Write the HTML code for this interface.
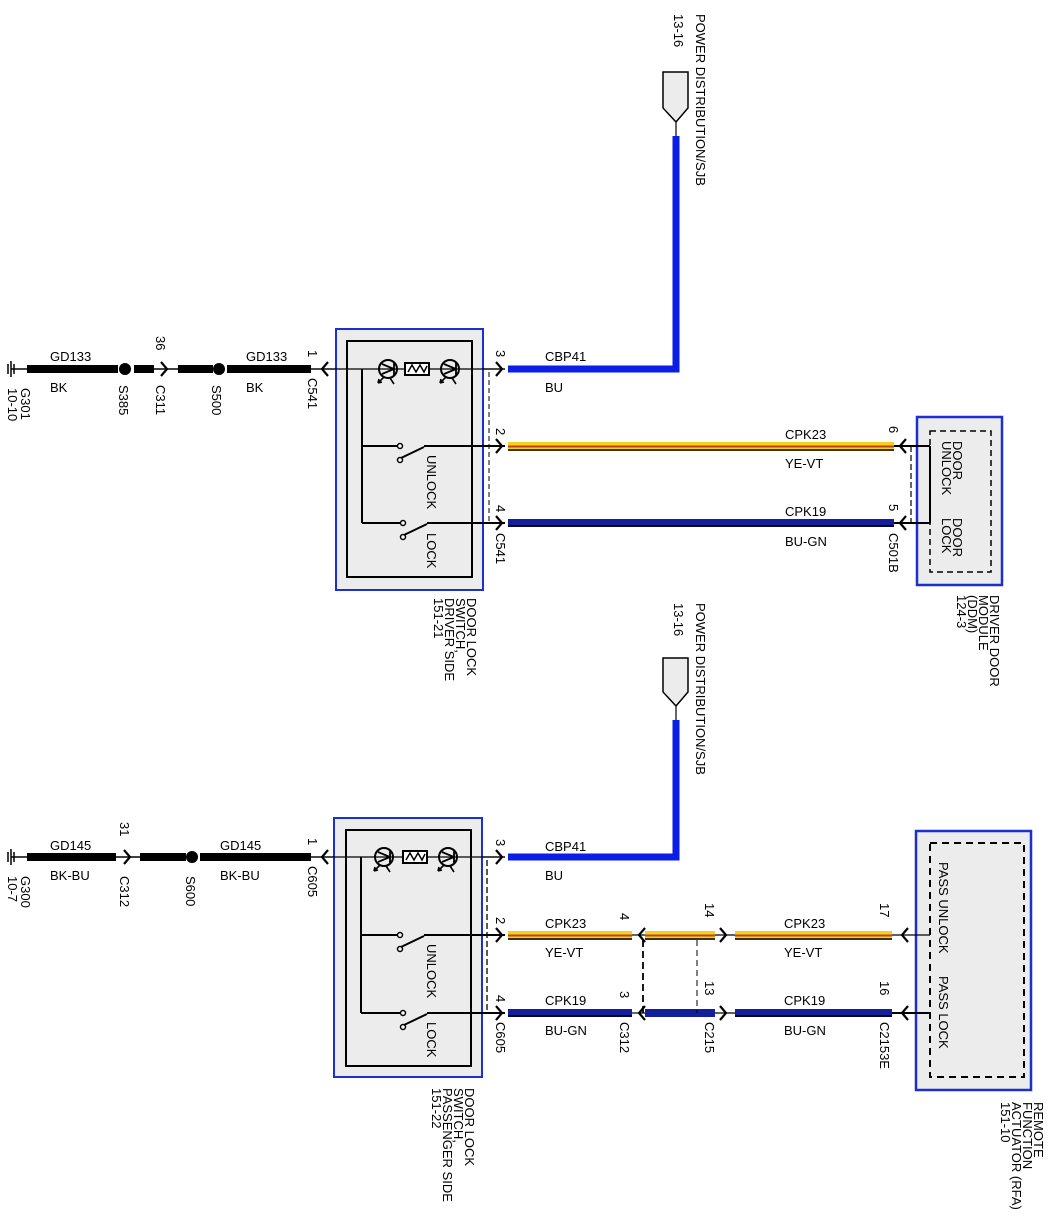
<!DOCTYPE html>
<html><head><meta charset="utf-8"><style>
html,body{margin:0;padding:0;background:#fff;}
svg{display:block;}
text{font-family:"Liberation Sans",Arial,sans-serif;font-size:13px;fill:#000;}
</style></head><body>
<svg width="1054" height="1232" viewBox="0 0 1054 1232" xmlns="http://www.w3.org/2000/svg">
<defs>
<g id="lamp">
<circle cx="0" cy="0" r="9" fill="none" stroke="#000" stroke-width="2"/>
<path d="M-6,-5 L6,0 L-6,5 M6,-6 L6,6" fill="none" stroke="#000" stroke-width="1.8"/>
<path d="M-4,8 L-10,14 M-10,14 l1,-4 M-10,14 l4,-1 M2,9 L6,15" stroke="#000" stroke-width="1.6" fill="none"/>
</g>
<g id="res">
<rect x="0" y="-6" width="24" height="12" fill="#fff" stroke="#000" stroke-width="2"/>
<path d="M3,3 L7,-4 L11,3 L15,-4 L19,3 L22,-3" fill="none" stroke="#000" stroke-width="1.5"/>
</g>
<path id="ar" d="M-6,-7 L0,0 L-6,7" fill="none" stroke="#000" stroke-width="2.2"/>
<path id="al" d="M6,-7 L0,0 L6,7" fill="none" stroke="#000" stroke-width="2.2"/>
<g id="sw">
<circle cx="0" cy="0" r="2.5" fill="#fff" stroke="#000" stroke-width="1.5"/>
<circle cx="0" cy="14" r="2.5" fill="#fff" stroke="#000" stroke-width="1.5"/>
<path d="M1,12 L24,1" stroke="#000" stroke-width="2"/>
</g>
</defs>

<!-- ================= TOP SECTION ================= -->
<!-- ground -->
<path d="M8,364 L8,374 M11,361 L11,377 M14,364 L14,374" stroke="#000" stroke-width="1.5"/>
<line x1="11" y1="369" x2="28" y2="369" stroke="#000" stroke-width="1.5"/>
<text transform="translate(11,388) rotate(90)"><tspan x="0" dy="-10">G301</tspan><tspan x="0" dy="13">10-10</tspan></text>
<rect x="27" y="365" width="91" height="8" fill="#000"/>
<circle cx="125" cy="369" r="6" fill="#000"/>
<rect x="134" y="365" width="20" height="8" fill="#000"/>
<line x1="150" y1="369" x2="178" y2="369" stroke="#000" stroke-width="1.5"/>
<use href="#ar" x="167" y="369"/>
<rect x="178" y="365" width="35" height="8" fill="#000"/>
<circle cx="219" cy="369" r="6" fill="#000"/>
<rect x="227" y="365" width="84" height="8" fill="#000"/>
<text x="50" y="361">GD133</text><text x="50" y="392">BK</text>
<text x="246" y="361">GD133</text><text x="246" y="392">BK</text>
<text transform="translate(119,385) rotate(90)">S385</text>
<text transform="translate(156,336) rotate(90)">36</text>
<text transform="translate(156,385) rotate(90)">C311</text>
<text transform="translate(212,385) rotate(90)">S500</text>
<text transform="translate(308,350) rotate(90)">1</text>
<text transform="translate(308,378) rotate(90)">C541</text>
<line x1="311" y1="369" x2="505" y2="369" stroke="#000" stroke-width="1.2"/>
<use href="#al" x="322" y="369"/>

<!-- switch box -->
<rect x="336" y="329" width="147" height="261" fill="#ececec" stroke="#1c2fd0" stroke-width="2"/>
<rect x="347" y="341" width="125" height="236" fill="none" stroke="#000" stroke-width="2"/>
<line x1="311" y1="369" x2="505" y2="369" stroke="#000" stroke-width="1.2"/>
<use href="#lamp" x="388" y="369"/>
<use href="#res" x="405" y="369"/>
<use href="#lamp" x="450" y="369"/>
<line x1="362" y1="369" x2="362" y2="523" stroke="#000" stroke-width="2"/>
<line x1="362" y1="446" x2="397" y2="446" stroke="#000" stroke-width="2"/>
<use href="#sw" x="400" y="446"/>
<line x1="424" y1="446" x2="505" y2="446" stroke="#000" stroke-width="2"/>
<line x1="362" y1="523" x2="400" y2="523" stroke="#000" stroke-width="2"/>
<use href="#sw" x="403" y="523"/>
<line x1="427" y1="523" x2="505" y2="523" stroke="#000" stroke-width="2"/>
<text transform="translate(427,455) rotate(90)">UNLOCK</text>
<text transform="translate(427,533) rotate(90)">LOCK</text>
<line x1="489" y1="372" x2="489" y2="523" stroke="#000" stroke-width="1" stroke-dasharray="5,3"/>
<use href="#ar" x="502" y="369"/><use href="#ar" x="502" y="446"/><use href="#ar" x="502" y="523"/>
<text transform="translate(496,350) rotate(90)">3</text>
<text transform="translate(496,428) rotate(90)">2</text>
<text transform="translate(496,505) rotate(90)">4</text>
<text transform="translate(496,533) rotate(90)">C541</text>
<text transform="translate(467,598) rotate(90)"><tspan x="0" dy="0">DOOR LOCK</tspan><tspan x="0" dy="11">SWITCH,</tspan><tspan x="0" dy="11">DRIVER SIDE</tspan><tspan x="0" dy="11">151-21</tspan></text>

<!-- power dist top -->
<path d="M663,72 L688,72 L688,108 L676,122 L663,108 Z" fill="#ececec" stroke="#000" stroke-width="1.5"/>
<line x1="676" y1="122" x2="676" y2="136" stroke="#000" stroke-width="1.2"/>
<path d="M676,136 L676,369 L508,369" fill="none" stroke="#0a1ee6" stroke-width="7"/>
<text transform="translate(696,14) rotate(90)">POWER DISTRIBUTION/SJB</text>
<text transform="translate(674,14) rotate(90)">13-16</text>
<text x="545" y="361">CBP41</text><text x="545" y="392">BU</text>

<!-- YE-VT top -->
<rect x="508" y="442" width="386" height="9" fill="#f5d21a"/>
<line x1="508" y1="446.5" x2="894" y2="446.5" stroke="#c0402a" stroke-width="2"/>
<line x1="508" y1="450" x2="894" y2="450" stroke="#000" stroke-width="1.5"/>
<text x="785" y="439">CPK23</text><text x="785" y="468">YE-VT</text>
<!-- BU-GN top -->
<rect x="508" y="519" width="386" height="8" fill="#14209a"/>
<line x1="508" y1="526" x2="894" y2="526" stroke="#000" stroke-width="1.5"/>
<text x="785" y="516">CPK19</text><text x="785" y="546">BU-GN</text>

<line x1="894" y1="446" x2="930" y2="446" stroke="#000" stroke-width="2"/>
<line x1="894" y1="523" x2="930" y2="523" stroke="#000" stroke-width="2"/>
<use href="#al" x="900" y="446"/><use href="#al" x="900" y="523"/>
<line x1="911" y1="446" x2="911" y2="523" stroke="#000" stroke-width="1.2" stroke-dasharray="6,3"/>
<text transform="translate(889,426) rotate(90)">6</text>
<text transform="translate(889,504) rotate(90)">5</text>
<text transform="translate(889,533) rotate(90)">C501B</text>
<rect x="917" y="417" width="85" height="168" fill="#ececec" stroke="#1c2fd0" stroke-width="2.5"/>
<line x1="930" y1="446" x2="930" y2="523" stroke="#000" stroke-width="2"/>
<rect x="930" y="431" width="61" height="141" fill="none" stroke="#000" stroke-width="1.5" stroke-dasharray="6,4"/>
<line x1="894" y1="446" x2="930" y2="446" stroke="#000" stroke-width="2"/>
<line x1="894" y1="523" x2="930" y2="523" stroke="#000" stroke-width="2"/>
<text transform="translate(953,441) rotate(90)"><tspan x="0" dy="0">DOOR</tspan><tspan x="0" dy="11">UNLOCK</tspan></text>
<text transform="translate(953,518) rotate(90)"><tspan x="0" dy="0">DOOR</tspan><tspan x="0" dy="11">LOCK</tspan></text>
<text transform="translate(990,595) rotate(90)"><tspan x="0" dy="0">DRIVER DOOR</tspan><tspan x="0" dy="11">MODULE</tspan><tspan x="0" dy="11">(DDM)</tspan><tspan x="0" dy="11">124-3</tspan></text>

<!-- ================= BOTTOM SECTION ================= -->
<path d="M8,852 L8,862 M11,849 L11,865 M14,852 L14,862" stroke="#000" stroke-width="1.5"/>
<line x1="11" y1="857" x2="28" y2="857" stroke="#000" stroke-width="1.5"/>
<text transform="translate(11,876) rotate(90)"><tspan x="0" dy="-10">G300</tspan><tspan x="0" dy="13">10-7</tspan></text>
<rect x="27" y="853" width="89" height="8" fill="#000"/>
<line x1="114" y1="857" x2="140" y2="857" stroke="#000" stroke-width="1.5"/>
<use href="#ar" x="130" y="857"/>
<rect x="140" y="853" width="46" height="8" fill="#000"/>
<circle cx="192" cy="857" r="6" fill="#000"/>
<rect x="200" y="853" width="111" height="8" fill="#000"/>
<text x="50" y="850">GD145</text><text x="50" y="880">BK-BU</text>
<text x="220" y="850">GD145</text><text x="220" y="880">BK-BU</text>
<text transform="translate(120,822) rotate(90)">31</text>
<text transform="translate(120,876) rotate(90)">C312</text>
<text transform="translate(186,876) rotate(90)">S600</text>
<text transform="translate(308,838) rotate(90)">1</text>
<text transform="translate(308,866) rotate(90)">C605</text>
<line x1="311" y1="857" x2="505" y2="857" stroke="#000" stroke-width="1.2"/>
<use href="#al" x="322" y="857"/>

<rect x="334" y="818" width="148" height="259" fill="#ececec" stroke="#1c2fd0" stroke-width="2"/>
<rect x="346" y="830" width="125" height="236" fill="none" stroke="#000" stroke-width="2"/>
<line x1="311" y1="857" x2="505" y2="857" stroke="#000" stroke-width="1.2"/>
<use href="#lamp" x="384" y="857"/>
<use href="#res" x="403" y="857"/>
<use href="#lamp" x="448" y="857"/>
<line x1="361" y1="857" x2="361" y2="1013" stroke="#000" stroke-width="2"/>
<line x1="361" y1="935" x2="397" y2="935" stroke="#000" stroke-width="2"/>
<use href="#sw" x="400" y="935"/>
<line x1="424" y1="935" x2="505" y2="935" stroke="#000" stroke-width="2"/>
<line x1="361" y1="1013" x2="400" y2="1013" stroke="#000" stroke-width="2"/>
<use href="#sw" x="403" y="1013"/>
<line x1="427" y1="1013" x2="505" y2="1013" stroke="#000" stroke-width="2"/>
<text transform="translate(427,944) rotate(90)">UNLOCK</text>
<text transform="translate(427,1022) rotate(90)">LOCK</text>
<line x1="487" y1="860" x2="487" y2="1013" stroke="#000" stroke-width="1.3" stroke-dasharray="6,3"/>
<use href="#ar" x="502" y="857"/><use href="#ar" x="502" y="935"/><use href="#ar" x="502" y="1013"/>
<text transform="translate(496,839) rotate(90)">3</text>
<text transform="translate(496,917) rotate(90)">2</text>
<text transform="translate(496,995) rotate(90)">4</text>
<text transform="translate(496,1022) rotate(90)">C605</text>
<text transform="translate(465,1088) rotate(90)"><tspan x="0" dy="0">DOOR LOCK</tspan><tspan x="0" dy="11">SWITCH,</tspan><tspan x="0" dy="11">PASSENGER SIDE</tspan><tspan x="0" dy="11">151-22</tspan></text>

<path d="M663,658 L688,658 L688,692 L676,706 L663,692 Z" fill="#ececec" stroke="#000" stroke-width="1.5"/>
<line x1="676" y1="706" x2="676" y2="720" stroke="#000" stroke-width="1.2"/>
<path d="M676,720 L676,857 L508,857" fill="none" stroke="#0a1ee6" stroke-width="7"/>
<text transform="translate(696,603) rotate(90)">POWER DISTRIBUTION/SJB</text>
<text transform="translate(674,603) rotate(90)">13-16</text>
<text x="545" y="851">CBP41</text><text x="545" y="880">BU</text>

<!-- YE-VT bottom -->
<g>
<rect x="508" y="931" width="124" height="9" fill="#f5d21a"/>
<rect x="645" y="931" width="70" height="9" fill="#f5d21a"/>
<rect x="735" y="931" width="157" height="9" fill="#f5d21a"/>
<line x1="508" y1="935.5" x2="892" y2="935.5" stroke="#c0402a" stroke-width="2"/>
<line x1="508" y1="939" x2="892" y2="939" stroke="#000" stroke-width="1.5"/>
</g>
<rect x="632" y="928" width="13" height="14" fill="#fff"/>
<rect x="715" y="928" width="20" height="14" fill="#fff"/>
<rect x="508" y="1009" width="124" height="8" fill="#14209a"/>
<rect x="645" y="1009" width="70" height="8" fill="#14209a"/>
<rect x="735" y="1009" width="157" height="8" fill="#14209a"/>
<line x1="508" y1="1016" x2="632" y2="1016" stroke="#000" stroke-width="1.5"/>
<line x1="735" y1="1016" x2="892" y2="1016" stroke="#000" stroke-width="1.5"/>
<line x1="632" y1="935" x2="645" y2="935" stroke="#000" stroke-width="1.2"/>
<line x1="715" y1="935" x2="735" y2="935" stroke="#000" stroke-width="1.2"/>
<line x1="632" y1="1013" x2="645" y2="1013" stroke="#000" stroke-width="1.2"/>
<line x1="715" y1="1013" x2="735" y2="1013" stroke="#000" stroke-width="1.2"/>
<use href="#al" x="639" y="935"/><use href="#al" x="639" y="1013"/>
<use href="#ar" x="726" y="935"/><use href="#ar" x="726" y="1013"/>
<line x1="643" y1="940" x2="643" y2="1013" stroke="#000" stroke-width="1.8" stroke-dasharray="7,4"/>
<line x1="697" y1="940" x2="697" y2="1013" stroke="#000" stroke-width="1" stroke-dasharray="6,4"/>
<text x="545" y="928">CPK23</text><text x="545" y="957">YE-VT</text>
<text x="545" y="1005">CPK19</text><text x="545" y="1035">BU-GN</text>
<text x="784" y="928">CPK23</text><text x="784" y="957">YE-VT</text>
<text x="784" y="1005">CPK19</text><text x="784" y="1035">BU-GN</text>
<text transform="translate(620,913) rotate(90)">4</text>
<text transform="translate(620,991) rotate(90)">3</text>
<text transform="translate(620,1022) rotate(90)">C312</text>
<text transform="translate(705,903) rotate(90)">14</text>
<text transform="translate(705,981) rotate(90)">13</text>
<text transform="translate(705,1022) rotate(90)">C215</text>
<text transform="translate(880,903) rotate(90)">17</text>
<text transform="translate(880,981) rotate(90)">16</text>
<text transform="translate(880,1022) rotate(90)">C2153E</text>

<rect x="916" y="831" width="115" height="259" fill="#ececec" stroke="#1c2fd0" stroke-width="2.5"/>
<rect x="930" y="843" width="94" height="234" fill="none" stroke="#000" stroke-width="2" stroke-dasharray="7,5"/>
<line x1="892" y1="935" x2="930" y2="935" stroke="#000" stroke-width="1.2"/>
<line x1="892" y1="1013" x2="930" y2="1013" stroke="#000" stroke-width="2"/>
<use href="#al" x="902" y="935"/><use href="#al" x="902" y="1013"/>
<text transform="translate(939,862) rotate(90)">PASS UNLOCK</text>
<text transform="translate(939,976) rotate(90)">PASS LOCK</text>
<text transform="translate(1034,1102) rotate(90)"><tspan x="0" dy="0">REMOTE</tspan><tspan x="0" dy="11">FUNCTION</tspan><tspan x="0" dy="11">ACTUATOR (RFA)</tspan><tspan x="0" dy="11">151-10</tspan></text>
</svg>
</body></html>
